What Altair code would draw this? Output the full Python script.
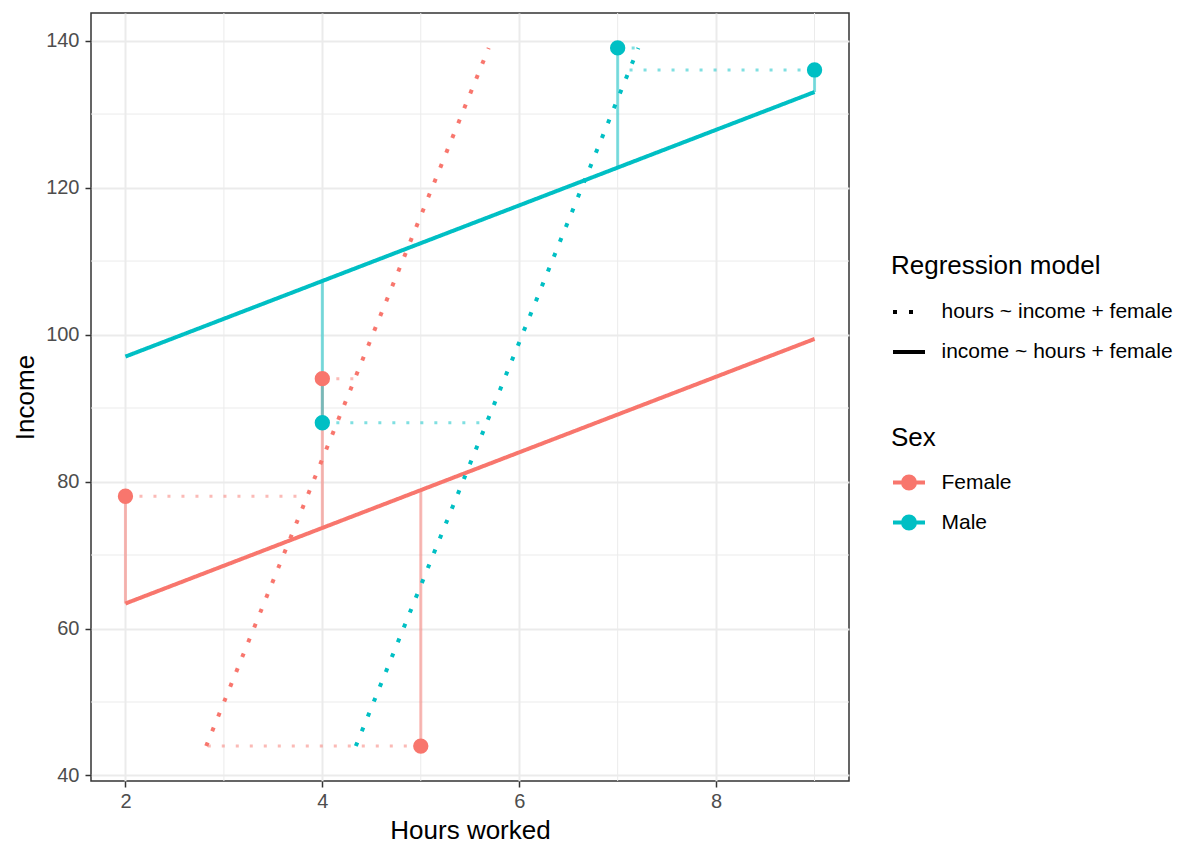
import altair as alt
import pandas as pd

# ---- observations ----
sex = ["Female", "Female", "Female", "Male", "Male", "Male"]
hours = [2, 4, 5, 4, 7, 9]
income = [78, 94, 44, 88, 139, 136]
# fitted values
fitted_income = [63.4, 73.7, 78.9, 107.3, 122.7, 133.0]
fitted_hours = [3.85, 4.33, 2.82, 5.67, 7.21, 7.12]

# ---- regression line end points ----
line_sex = ["Female", "Female", "Male", "Male", "Female", "Female", "Male", "Male"]
line_model = ["income ~ hours + female"] * 4 + ["hours ~ income + female"] * 4
line_id = ["a", "a", "b", "b", "c", "c", "d", "d"]
line_hours = [2, 9, 2, 9, 2.82, 5.69, 4.34, 7.21]
line_income = [63.4, 99.4, 97.0, 133.0, 44, 139, 44, 139]

# ---- axes / grid ----
x_ticks = [2, 4, 6, 8]
y_ticks = [40, 60, 80, 100, 120, 140]
x_minor = [3, 5, 7, 9]
y_minor = [50, 70, 90, 110, 130]

sex_levels = ["Female", "Male"]
sex_colors = ["#F8766D", "#00BFC4"]
model_levels = ["hours ~ income + female", "income ~ hours + female"]

FONT = "Liberation Sans"

pts = pd.DataFrame({"sex": sex, "hours": hours, "income": income,
                    "fitted_income": fitted_income, "fitted_hours": fitted_hours})
lines = pd.DataFrame({"sex": line_sex, "model": line_model, "id": line_id,
                      "hours": line_hours, "income": line_income})
xm = pd.DataFrame({"hours": x_minor})
ym = pd.DataFrame({"income": y_minor})

xscale = alt.Scale(domain=[1.65, 9.35], nice=False, zero=False)
yscale = alt.Scale(domain=[39.25, 143.75], nice=False, zero=False)

xaxis = alt.Axis(values=x_ticks, title="Hours worked", titleX=379, titleY=57,
                 titleBaseline="alphabetic", labelPadding=4)
yaxis = alt.Axis(values=y_ticks, title="Income", titleX=-58, titleY=384,
                 titleAngle=270, titleBaseline="alphabetic", labelPadding=6)

sex_symbol = "M-1,0L1,0M0.375,0A0.375,0.375,0,1,1,-0.375,0A0.375,0.375,0,1,1,0.375,0Z"

sex_legend = alt.Legend(title="Sex", orient="none", legendX=800, legendY=412,
                        direction="vertical", symbolType=sex_symbol,
                        symbolSize=1024, symbolStrokeWidth=4, symbolOpacity=1,
                        titlePadding=13.5, rowPadding=8, labelOffset=14.5)
model_legend = alt.Legend(title="Regression model", orient="none", legendX=800,
                          legendY=240, direction="vertical", symbolType="stroke",
                          symbolSize=1024, symbolStrokeWidth=4, symbolOpacity=1,
                          symbolStrokeColor="black",
                          titlePadding=15, rowPadding=12, labelOffset=14.5)

color_scale = alt.Scale(domain=sex_levels, range=sex_colors)
dash_scale = alt.Scale(domain=model_levels, range=[[4, 12], [1, 0]])


def X(field="hours"):
    return alt.X(f"{field}:Q", scale=xscale, axis=xaxis)


def Y(field="income"):
    return alt.Y(f"{field}:Q", scale=yscale, axis=yaxis)


minor_x = alt.Chart(xm).mark_rule(color="#EBEBEB", strokeWidth=1).encode(x=X())
minor_y = alt.Chart(ym).mark_rule(color="#EBEBEB", strokeWidth=1).encode(y=Y())

resid_v = alt.Chart(pts).mark_rule(strokeWidth=3, opacity=0.5).encode(
    x=X(), y=Y(), y2="fitted_income:Q",
    color=alt.Color("sex:N", scale=color_scale, legend=sex_legend),
)
resid_h = alt.Chart(pts).mark_rule(strokeWidth=3, opacity=0.5, strokeDash=[3, 11]).encode(
    x=X(), x2="fitted_hours:Q", y=Y(),
    color=alt.Color("sex:N", scale=color_scale, legend=sex_legend),
)
reg = alt.Chart(lines).mark_line(strokeWidth=4).encode(
    x=X(), y=Y(),
    color=alt.Color("sex:N", scale=color_scale, legend=sex_legend),
    strokeDash=alt.StrokeDash("model:N", scale=dash_scale, legend=model_legend),
    detail="id:N",
)
points = alt.Chart(pts).mark_circle(size=235, opacity=1).encode(
    x=X(), y=Y(),
    color=alt.Color("sex:N", scale=color_scale, legend=sex_legend),
)

chart = alt.layer(minor_x, minor_y, resid_v, resid_h, reg, points).properties(
    width=758, height=768,
    autosize=alt.AutoSizeParams(type="none"),
    padding={"left": 91, "top": 13, "right": 351, "bottom": 76},
    background="white",
).configure_view(
    stroke="#333333", strokeWidth=1.5
).configure_axis(
    domain=False, grid=True, gridColor="#EBEBEB", gridWidth=2,
    tickColor="#333333", tickWidth=1.5, tickSize=6,
    labelFont=FONT, labelFontSize=20, labelColor="#4D4D4D",
    titleFont=FONT, titleFontSize=26, titleFontWeight="normal", titleColor="black",
).configure_legend(
    labelFont=FONT, labelFontSize=21, labelColor="black", labelLimit=400,
    titleFont=FONT, titleFontSize=26, titleFontWeight="normal", titleColor="black",
    titleLimit=400, padding=0,
)

chart.save("out.html", embed_options={"renderer": "svg", "actions": False})
